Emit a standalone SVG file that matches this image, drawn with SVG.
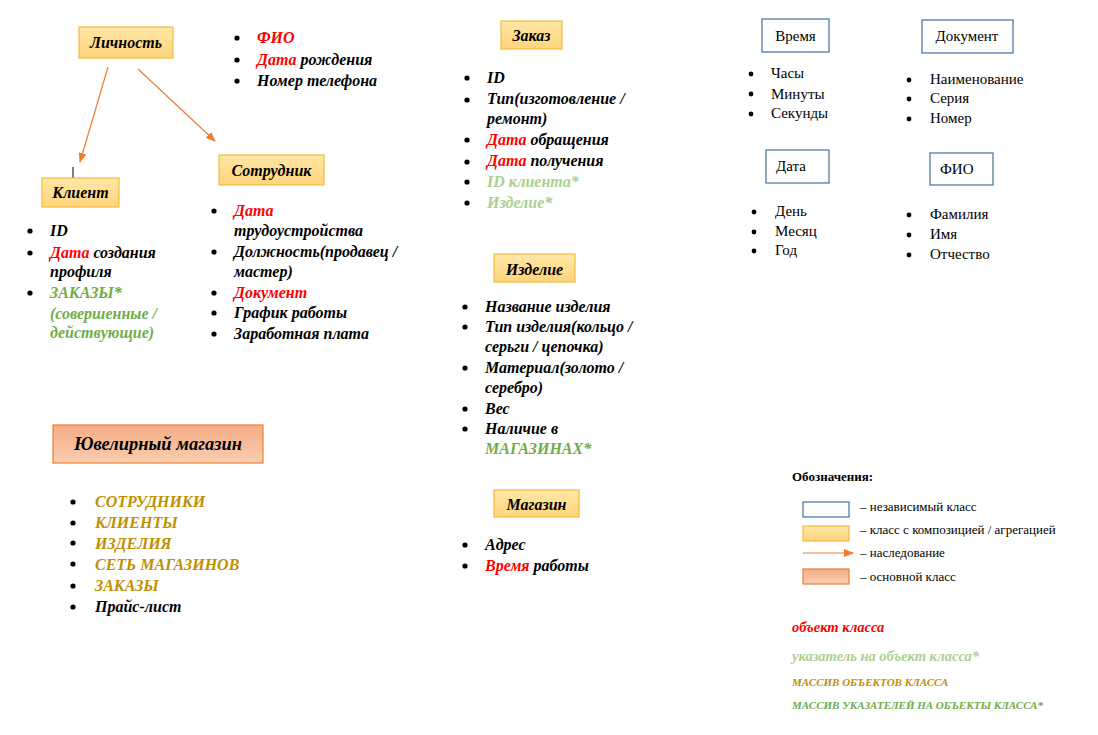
<svg xmlns="http://www.w3.org/2000/svg" width="1098" height="735" viewBox="0 0 1098 735">
<defs>
<linearGradient id="gY" x1="0" y1="0" x2="0" y2="1"><stop offset="0" stop-color="#FFE7A6"/><stop offset="1" stop-color="#FFD57C"/></linearGradient>
<linearGradient id="gS" x1="0" y1="0" x2="0" y2="1"><stop offset="0" stop-color="#F4AD85"/><stop offset="1" stop-color="#F9CDB0"/></linearGradient>
<marker id="ar" markerWidth="10" markerHeight="8" refX="9" refY="4" orient="auto" markerUnits="userSpaceOnUse"><path d="M0,0 L10,4 L0,8 Z" fill="#ED7D31"/></marker>
<style>
.ybox{fill:url(#gY);stroke:#F4BA3F;stroke-width:1.2}
.sbox{fill:url(#gS);stroke:#ED7D31;stroke-width:1.2}
.wbox{fill:#fff;stroke:#41719C;stroke-width:1.2}
.t{font-family:"Liberation Serif","Times New Roman",serif;font-size:16px;font-weight:bold;font-style:italic;fill:#000}
.n{font-family:"Liberation Serif","Times New Roman",serif;font-size:15px;fill:#000}
.lg{font-family:"Liberation Serif","Times New Roman",serif;font-size:13px;fill:#000}
.r{fill:#FF0000}.g{fill:#70AD47}.lgn{fill:#A9D18E}.au{fill:#BF9000}
.conn{stroke:#ED7D31;stroke-width:1.2;fill:none}
</style>
</defs>
<rect width="1098" height="735" fill="#fff"/>

<g id="connectors">
<line class="conn" x1="108" y1="67" x2="80" y2="162" marker-end="url(#ar)"/>
<line class="conn" x1="138" y1="69" x2="215" y2="141" marker-end="url(#ar)"/>
<line x1="73" y1="167" x2="73" y2="183" stroke="#000" stroke-width="1"/>
</g>

<g id="lichnost">
<rect class="ybox" x="79" y="27" width="94" height="31"/>
<text class="t" x="126" y="48" text-anchor="middle">Личность</text>
</g>
<g id="lichnost-list" fill="#000">
<circle cx="237" cy="38" r="2.6"/><circle cx="237" cy="60" r="2.6"/><circle cx="237" cy="81" r="2.6"/>
<text class="t" x="257" y="43"><tspan class="r">ФИО</tspan></text>
<text class="t" x="257" y="65"><tspan class="r">Дата</tspan> рождения</text>
<text class="t" x="257" y="86">Номер телефона</text>
</g>

<g id="klient">
<rect class="ybox" x="42" y="178" width="77" height="29"/>
<text class="t" x="80.5" y="198" text-anchor="middle">Клиент</text>
</g>
<g id="klient-list">
<circle cx="30" cy="231" r="2.6"/><circle cx="30" cy="253" r="2.6"/><circle cx="30" cy="293" r="2.6"/>
<text class="t" x="50" y="236">ID</text>
<text class="t" x="50" y="258"><tspan class="r">Дата</tspan> создания</text>
<text class="t" x="50" y="277">профиля</text>
<text class="t g" x="50" y="298">ЗАКАЗЫ*</text>
<text class="t g" x="50" y="319">(совершенные /</text>
<text class="t g" x="50" y="338">действующие)</text>
</g>

<g id="sotrudnik">
<rect class="ybox" x="219" y="155" width="105" height="30"/>
<text class="t" x="271.5" y="176" text-anchor="middle">Сотрудник</text>
</g>
<g id="sotrudnik-list">
<circle cx="214" cy="211" r="2.6"/><circle cx="214" cy="252" r="2.6"/><circle cx="214" cy="293" r="2.6"/><circle cx="214" cy="313" r="2.6"/><circle cx="214" cy="334" r="2.6"/>
<text class="t r" x="234" y="216">Дата</text>
<text class="t" x="234" y="236">трудоустройства</text>
<text class="t" x="234" y="257">Должность(продавец /</text>
<text class="t" x="234" y="277">мастер)</text>
<text class="t r" x="234" y="298">Документ</text>
<text class="t" x="234" y="318">График работы</text>
<text class="t" x="234" y="339">Заработная плата</text>
</g>

<g id="zakaz">
<rect class="ybox" x="501" y="21" width="61" height="28"/>
<text class="t" x="531.5" y="41" text-anchor="middle">Заказ</text>
</g>
<g id="zakaz-list">
<circle cx="467" cy="78" r="2.6"/><circle cx="467" cy="100" r="2.6"/><circle cx="467" cy="140" r="2.6"/><circle cx="467" cy="162" r="2.6"/><circle cx="467" cy="182" r="2.6"/><circle cx="467" cy="203" r="2.6"/>
<text class="t" x="487" y="83">ID</text>
<text class="t" x="487" y="104">Тип(изготовление /</text>
<text class="t" x="487" y="124">ремонт)</text>
<text class="t" x="487" y="145"><tspan class="r">Дата</tspan> обращения</text>
<text class="t" x="487" y="166"><tspan class="r">Дата</tspan> получения</text>
<text class="t lgn" x="487" y="187">ID клиента*</text>
<text class="t lgn" x="487" y="208">Изделие*</text>
</g>

<g id="izdelie">
<rect class="ybox" x="494" y="254" width="81" height="28"/>
<text class="t" x="534.5" y="275" text-anchor="middle">Изделие</text>
</g>
<g id="izdelie-list">
<circle cx="465" cy="307" r="2.6"/><circle cx="465" cy="327" r="2.6"/><circle cx="465" cy="368" r="2.6"/><circle cx="465" cy="409" r="2.6"/><circle cx="465" cy="429" r="2.6"/>
<text class="t" x="485" y="312">Название изделия</text>
<text class="t" x="485" y="332">Тип изделия(кольцо /</text>
<text class="t" x="485" y="352">серьги / цепочка)</text>
<text class="t" x="485" y="373">Материал(золото /</text>
<text class="t" x="485" y="393">серебро)</text>
<text class="t" x="485" y="414">Вес</text>
<text class="t" x="485" y="434">Наличие в</text>
<text class="t g" x="485" y="454">МАГАЗИНАХ*</text>
</g>

<g id="magazin">
<rect class="ybox" x="494" y="490" width="85" height="27"/>
<text class="t" x="536.5" y="510" text-anchor="middle">Магазин</text>
</g>
<g id="magazin-list">
<circle cx="465" cy="545" r="2.6"/><circle cx="465" cy="566" r="2.6"/>
<text class="t" x="485" y="550">Адрес</text>
<text class="t" x="485" y="571"><tspan class="r">Время</tspan> работы</text>
</g>

<g id="vremya">
<rect class="wbox" x="762" y="19" width="67" height="33"/>
<text class="n" x="795.5" y="41" text-anchor="middle">Время</text>
</g>
<g id="vremya-list">
<circle cx="751" cy="74" r="2.4"/><circle cx="751" cy="94" r="2.4"/><circle cx="751" cy="114" r="2.4"/>
<text class="n" x="771" y="78">Часы</text>
<text class="n" x="771" y="99">Минуты</text>
<text class="n" x="771" y="118">Секунды</text>
</g>

<g id="dokument">
<rect class="wbox" x="922" y="20" width="91" height="33"/>
<text class="n" x="967" y="41" text-anchor="middle">Документ</text>
</g>
<g id="dokument-list">
<circle cx="909" cy="80" r="2.4"/><circle cx="909" cy="99" r="2.4"/><circle cx="909" cy="119" r="2.4"/>
<text class="n" x="930" y="84">Наименование</text>
<text class="n" x="930" y="103">Серия</text>
<text class="n" x="930" y="123">Номер</text>
</g>

<g id="data">
<rect class="wbox" x="766" y="150" width="63" height="33"/>
<text class="n" x="776" y="171">Дата</text>
</g>
<g id="data-list">
<circle cx="754" cy="212" r="2.4"/><circle cx="754" cy="232" r="2.4"/><circle cx="754" cy="251" r="2.4"/>
<text class="n" x="775" y="216">День</text>
<text class="n" x="775" y="236">Месяц</text>
<text class="n" x="775" y="255">Год</text>
</g>

<g id="fio">
<rect class="wbox" x="930" y="153" width="63" height="32"/>
<text class="n" x="940" y="174">ФИО</text>
</g>
<g id="fio-list">
<circle cx="909" cy="215" r="2.4"/><circle cx="909" cy="235" r="2.4"/><circle cx="909" cy="255" r="2.4"/>
<text class="n" x="930" y="219">Фамилия</text>
<text class="n" x="930" y="239">Имя</text>
<text class="n" x="930" y="259">Отчество</text>
</g>

<g id="yuvelirnyi">
<rect class="sbox" x="53" y="425" width="210" height="38"/>
<text class="t" x="158" y="450" text-anchor="middle" style="font-size:18.5px">Ювелирный магазин</text>
</g>
<g id="yuvelirnyi-list">
<circle cx="73" cy="502" r="2.6"/><circle cx="73" cy="523" r="2.6"/><circle cx="73" cy="543" r="2.6"/><circle cx="73" cy="564" r="2.6"/><circle cx="73" cy="586" r="2.6"/><circle cx="73" cy="607" r="2.6"/>
<text class="t au" x="95" y="507">СОТРУДНИКИ</text>
<text class="t au" x="95" y="528">КЛИЕНТЫ</text>
<text class="t au" x="95" y="549">ИЗДЕЛИЯ</text>
<text class="t au" x="95" y="570">СЕТЬ МАГАЗИНОВ</text>
<text class="t au" x="95" y="591">ЗАКАЗЫ</text>
<text class="t" x="95" y="612">Прайс-лист</text>
</g>

<g id="legend">
<text class="lg" x="792" y="481" font-weight="bold">Обозначения:</text>
<rect class="wbox" x="803" y="502" width="46" height="15"/>
<text class="lg" x="860" y="511">– независимый класс</text>
<rect class="ybox" x="803" y="526" width="46" height="15"/>
<text class="lg" x="860" y="534">– класс с композицией / агрегацией</text>
<line class="conn" x1="803" y1="553" x2="853" y2="553" marker-end="url(#ar)"/>
<text class="lg" x="860" y="557">– наследование</text>
<rect class="sbox" x="803" y="569" width="46" height="15"/>
<text class="lg" x="860" y="581">– основной класс</text>
<text class="t r" x="792" y="632" style="font-size:14.5px">объект класса</text>
<text class="t lgn" x="792" y="661" style="font-size:14.5px">указатель на объект класса*</text>
<text class="t au" x="792" y="686" style="font-size:11px">МАССИВ ОБЪЕКТОВ КЛАССА</text>
<text class="t g" x="792" y="709" style="font-size:11px">МАССИВ УКАЗАТЕЛЕЙ НА ОБЪЕКТЫ КЛАССА*</text>
</g>
</svg>
